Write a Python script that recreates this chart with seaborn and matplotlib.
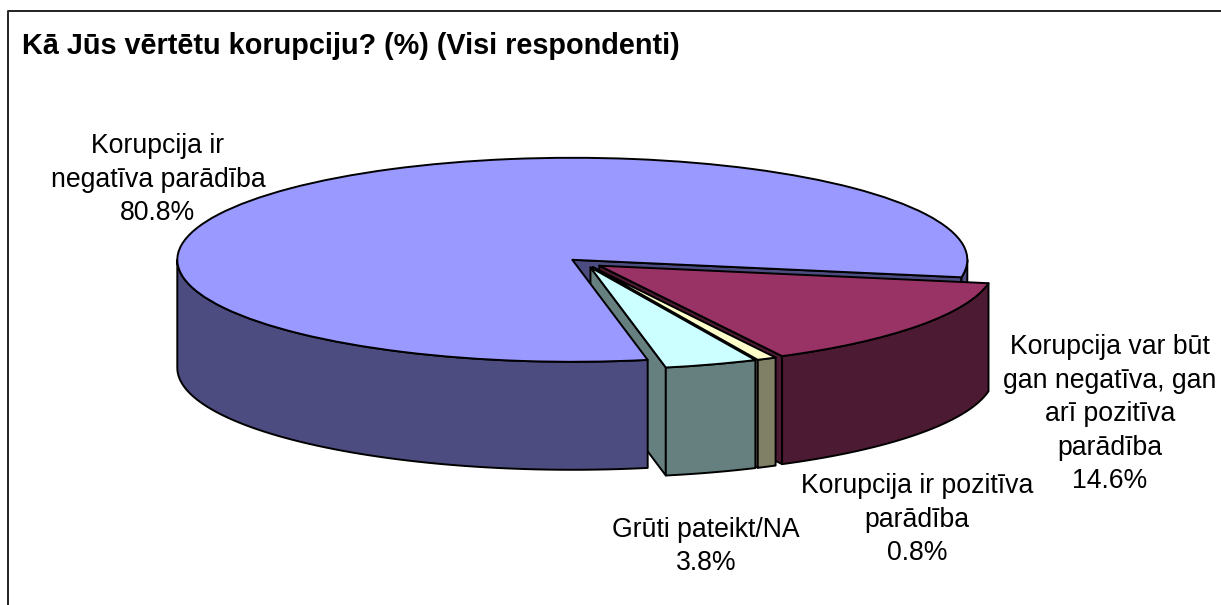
import numpy as np
import matplotlib
matplotlib.use("Agg")
import matplotlib.pyplot as plt
from matplotlib.patches import Polygon
from matplotlib.lines import Line2D
import seaborn as sns

# ---------------- data ----------------
title = "Kā Jūs vērtētu korupciju? (%) (Visi respondenti)"
categories = [
    "Korupcija ir\nnegatīva parādība",
    "Korupcija var būt\ngan negatīva, gan\narī pozitīva\nparādība",
    "Korupcija ir pozitīva\nparādība",
    "Grūti pateikt/NA",
]
values = [80.8, 14.6, 0.8, 3.8]
top_colors = ["#9999FF", "#993366", "#FFFFCC", "#CCFFFF"]
side_colors = ["#4C4C80", "#4D1A33", "#808066", "#668080"]
explode = [0.045, 0.045, 0.045, 0.045]
outer_z = [3, 4, 5, 6]  # outer walls drawn after all radial faces

# label anchor positions (px, last-line baseline)
label_pos = [(158, 220), (1110, 488), (917, 560), (706, 570)]

sns.set_theme(style="white")
plt.rcParams["font.family"] = ["Liberation Sans", "DejaVu Sans"]

W, H, DPI = 1221, 605, 100
fig = plt.figure(figsize=(W / DPI, H / DPI), dpi=DPI)
fig.patch.set_facecolor("white")
ax = fig.add_axes([0, 0, 1, 1])

# pie geometry in pixels
cx, cy = 585, 263
rx, ry = 395, 102
depth = 108 / ry
lw = 1.4

wedges, _ = ax.pie(
    values,
    colors=top_colors,
    startangle=281,
    counterclock=False,
    explode=explode,
    radius=1,
    frame=True,
    wedgeprops=dict(edgecolor="black", linewidth=lw, joinstyle="round", zorder=20),
)
ax.set_aspect("auto")
ax.set_xlim((0 - cx) / rx, (W - cx) / rx)
ax.set_ylim((cy - H) / ry, cy / ry)
ax.axis("off")


def front_intervals(t1, t2):
    out = []
    for k in range(-2, 3):
        a, b = 180 + 360 * k, 360 + 360 * k
        lo, hi = max(a, t1), min(b, t2)
        if hi > lo:
            out.append((lo, hi))
    return out


for i, w in enumerate(wedges):
    c0, c1 = w.center
    r = w.r
    t1, t2 = w.theta1, w.theta2
    # radial side faces (behind all outer walls)
    for a, visible in ((t1, np.cos(np.deg2rad(t1)) > 0), (t2, np.cos(np.deg2rad(t2)) < 0)):
        if visible:
            ex = c0 + r * np.cos(np.deg2rad(a))
            ey = c1 + r * np.sin(np.deg2rad(a))
            ax.add_patch(Polygon([(c0, c1), (ex, ey), (ex, ey - depth), (c0, c1 - depth)],
                                 closed=True, facecolor=side_colors[i], edgecolor="black",
                                 linewidth=lw, joinstyle="round", zorder=1 + 0.1 * i))
    # outer curved wall
    for lo, hi in front_intervals(t1, t2):
        th = np.deg2rad(np.linspace(lo, hi, 200))
        xs = c0 + r * np.cos(th)
        ys = c1 + r * np.sin(th)
        pts = list(zip(xs, ys)) + list(zip(xs[::-1], ys[::-1] - depth))
        ax.add_patch(Polygon(pts, closed=True, facecolor=side_colors[i], edgecolor="black",
                             linewidth=lw, joinstyle="round", zorder=outer_z[i]))

# labels
for (px, py), cat, v in zip(label_pos, categories, values):
    fig.text(px / W, 1 - py / H, f"{cat}\n{v:.1f}%", ha="center", va="baseline",
             multialignment="center", fontsize=19.2, color="black", linespacing=1.37)

# title
fig.text(22 / W, 1 - 54 / H, title, ha="left", va="baseline", fontsize=20.8,
         fontweight="bold", color="black")

# chart frame (top and left edges visible)
x0, y0 = 8 / W, 1 - 11 / H
fig.add_artist(Line2D([x0, x0, 1.0], [0.0, y0, y0], transform=fig.transFigure,
                      color="#222222", linewidth=1.4))

fig.savefig("out.png", dpi=DPI, facecolor="white")
